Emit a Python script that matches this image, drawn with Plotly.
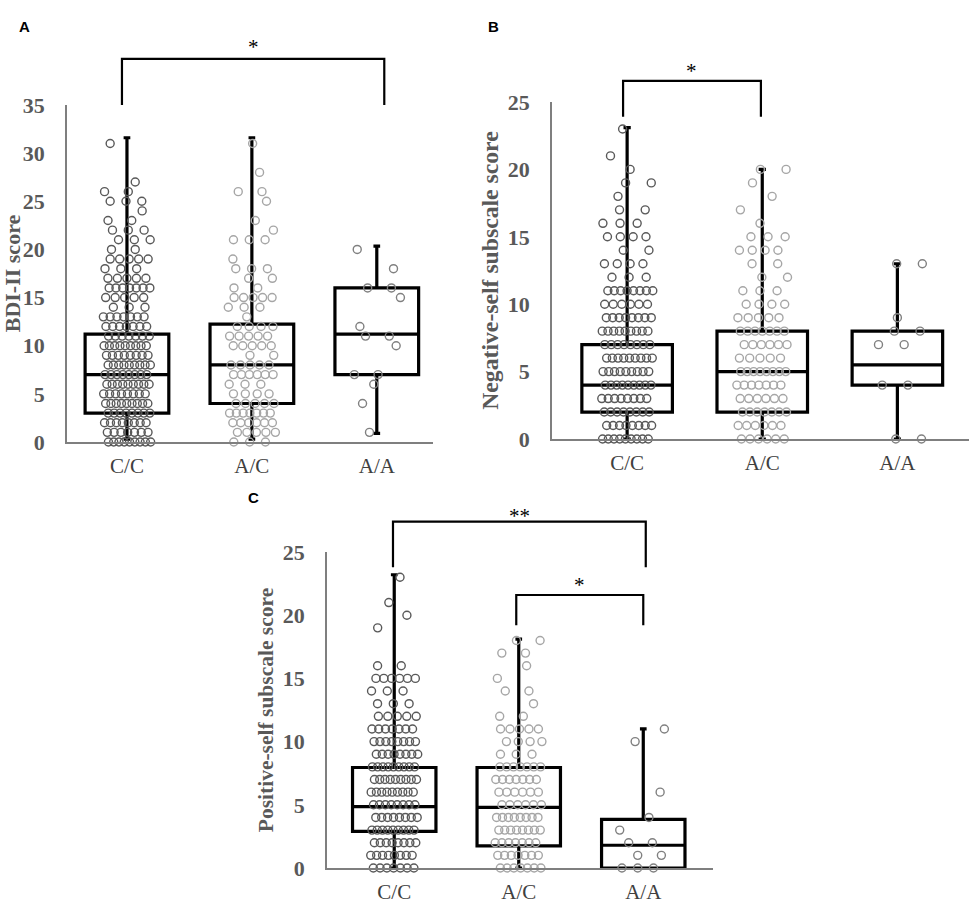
import numpy as np
import plotly.graph_objects as go

# ---------------- data ----------------
genotypes = ["C/C", "A/C", "A/A"]

# counts of participants per integer score (index = score)
A_CC_counts = [9, 7, 8, 8, 9, 8, 9, 8, 9, 8, 9, 7, 7, 7, 3, 5, 7, 5, 3, 5, 2, 3, 3, 2, 1, 3, 2, 1, 0, 0, 0, 1]
A_AC_counts = [3, 5, 6, 7, 5, 4, 3, 6, 5, 2, 5, 5, 4, 1, 3, 5, 2, 2, 3, 1, 0, 3, 1, 1, 0, 1, 2, 0, 1, 0, 0, 1]
A_AA_values = [1, 4, 6, 7, 7, 10, 11, 11, 12, 15, 16, 16, 18, 20]

B_CC_counts = [9, 8, 8, 8, 9, 9, 9, 8, 9, 8, 6, 8, 3, 4, 2, 4, 3, 2, 1, 2, 1, 1, 0, 1]
B_AC_counts = [6, 6, 7, 6, 7, 8, 5, 6, 7, 5, 4, 3, 2, 2, 4, 3, 1, 1, 1, 1, 2]
B_AA_values = [0, 0, 4, 4, 7, 7, 8, 8, 9, 13, 13]

C_CC_counts = [7, 8, 8, 9, 8, 8, 9, 9, 9, 8, 8, 7, 5, 3, 3, 6, 2, 0, 0, 1, 1, 1, 0, 1]
C_AC_counts = [7, 7, 7, 8, 8, 6, 6, 7, 7, 3, 4, 5, 2, 1, 2, 1, 1, 2, 2]
C_AA_values = [0, 0, 0, 1, 1, 2, 2, 3, 4, 6, 10, 11]

# box statistics (C/C, A/C, A/A)
A_q1 = [3.0, 4.0, 7.0]
A_med = [7.0, 8.0, 11.2]
A_q3 = [11.2, 12.25, 16.0]
A_lo = [0.3, 0.3, 0.9]
A_hi = [31.6, 31.6, 20.35]

B_q1 = [2.0, 2.0, 4.0]
B_med = [4.0, 5.0, 5.5]
B_q3 = [7.0, 8.0, 8.0]
B_lo = [0.0, 0.0, 0.0]
B_hi = [23.1, 20.0, 13.0]

C_q1 = [2.9, 1.75, 0.0]
C_med = [4.85, 4.8, 1.8]
C_q3 = [7.95, 7.95, 3.85]
C_lo = [0.0, 0.0, 0.0]
C_hi = [23.2, 18.1, 11.0]

y_titles = ["BDI-II score", "Negative-self subscale score", "Positive-self subscale score"]
y_max = [35, 25, 25]

# ---------------- helpers ----------------
point_colors = ["#595959", "#a6a6a6", "#808080"]
title_sizes = [22, 23.7, 21.5]


def counts_to_values(counts):
    vals = []
    for score, n in enumerate(counts):
        vals += [score] * n
    return vals


def jitter_positions(values, center, seed, half=0.19):
    values = list(values)
    xs, ys = [], []
    levels = sorted(set(values))
    for lv in levels:
        n = values.count(lv)
        ph = ((lv + 1) * 0.618 + seed) % 1.0
        for i in range(n):
            xs.append(center - half + 2 * half * (i + ph) / n)
            ys.append(lv)
    return xs, ys


panels = [
    dict(groups=[counts_to_values(A_CC_counts), counts_to_values(A_AC_counts), A_AA_values],
         q1=A_q1, med=A_med, q3=A_q3, lo=A_lo, hi=A_hi),
    dict(groups=[counts_to_values(B_CC_counts), counts_to_values(B_AC_counts), B_AA_values],
         q1=B_q1, med=B_med, q3=B_q3, lo=B_lo, hi=B_hi),
    dict(groups=[counts_to_values(C_CC_counts), counts_to_values(C_AC_counts), C_AA_values],
         q1=C_q1, med=C_med, q3=C_q3, lo=C_lo, hi=C_hi),
]

W, H = 976, 907
# plot areas in pixels: (left, right, top, bottom)
areas = [(67, 433, 105, 442), (552, 969, 102, 439), (327, 713, 552, 868)]
xranges = [[-0.48, 2.45], [-0.556, 2.53], [-0.54, 2.56]]

fig = go.Figure()

for p, panel in enumerate(panels):
    sfx = "" if p == 0 else str(p + 1)
    xa, ya = "x" + sfx, "y" + sfx
    for g, vals in enumerate(panel["groups"]):
        xs, ys = jitter_positions(vals, g, seed=0.37 * (g + 1) + 0.21 * p)
        fig.add_trace(go.Scatter(
            x=xs, y=ys, mode="markers", xaxis=xa, yaxis=ya, cliponaxis=False,
            marker=dict(symbol="circle-open", size=8, color=point_colors[g],
                        line=dict(width=1.4, color=point_colors[g])),
            showlegend=False, hoverinfo="y"))
    fig.add_trace(go.Box(
        x=[0, 1, 2], q1=panel["q1"], median=panel["med"], q3=panel["q3"],
        lowerfence=panel["lo"], upperfence=panel["hi"],
        xaxis=xa, yaxis=ya, width=0.67, whiskerwidth=0.08,
        fillcolor="rgba(0,0,0,0)", line=dict(color="black", width=3.2),
        boxpoints=False, showlegend=False))

    l, r, t, b = areas[p]
    fig.layout["xaxis" + sfx] = dict(
        domain=[l / W, r / W], range=xranges[p], anchor=ya, automargin=False,
        tickvals=[0, 1, 2], ticktext=genotypes, showline=True, linecolor="#7f7f7f",
        linewidth=1.5, ticks="", showgrid=False, zeroline=False,
        tickfont=dict(family="Liberation Serif", size=21, color="#404040"),
        ticklabelstandoff=4, fixedrange=True)
    fig.layout["yaxis" + sfx] = dict(
        domain=[1 - b / H, 1 - t / H], range=[0, y_max[p]], anchor=xa, automargin=False,
        dtick=5, showline=True, linecolor="#7f7f7f", linewidth=1.5, ticks="",
        showgrid=False, zeroline=False,
        tickfont=dict(family="Liberation Serif", size=22, color="#595959", weight="bold"),
        ticklabelstandoff=16,
        title=dict(text=y_titles[p], standoff=3,
                   font=dict(family="Liberation Serif", size=title_sizes[p], color="#595959",
                             weight="bold")),
        fixedrange=True)

# significance brackets: (panel, x0, x1, top value, bottom value, label, label value)
brackets = [
    (0, -0.04, 2.06, 39.8, 35.0, "*", 41.4),
    (1, -0.03, 0.99, 26.56, 23.9, "*", 27.6),
    (2, -0.01, 2.02, 27.4, 23.8, "**", 28.2),
    (2, 0.98, 2.00, 21.6, 19.2, "*", 22.7),
]
for p, x0, x1, ytop, ybot, lab, ylab in brackets:
    sfx = "" if p == 0 else str(p + 1)
    ym = y_max[p]
    fig.add_shape(type="path", xref="x" + sfx, yref="y" + sfx + " domain",
                  path=f"M {x0},{ybot/ym} L {x0},{ytop/ym} L {x1},{ytop/ym} L {x1},{ybot/ym}",
                  line=dict(color="black", width=2.2))
    fig.add_annotation(x=(x0 + x1) / 2, y=ylab / ym, xref="x" + sfx, yref="y" + sfx + " domain",
                       text=lab, showarrow=False, yanchor="middle", yshift=-4,
                       font=dict(family="Liberation Serif", size=21, color="black"))

for letter, px, py in [("A", 24, 26), ("B", 493, 26), ("C", 254, 497)]:
    fig.add_annotation(x=px / W, y=1 - py / H, xref="paper", yref="paper", text=letter,
                       showarrow=False, xanchor="center", yanchor="middle",
                       font=dict(family="Liberation Sans", size=15, color="black", weight="bold"))

fig.update_layout(width=W, height=H, margin=dict(l=0, r=0, t=0, b=0),
                  paper_bgcolor="white", plot_bgcolor="white", showlegend=False)

fig.write_html("out.html", config={"displayModeBar": False},
               post_script="document.body.style.margin='0px';document.body.style.overflow='hidden';")
